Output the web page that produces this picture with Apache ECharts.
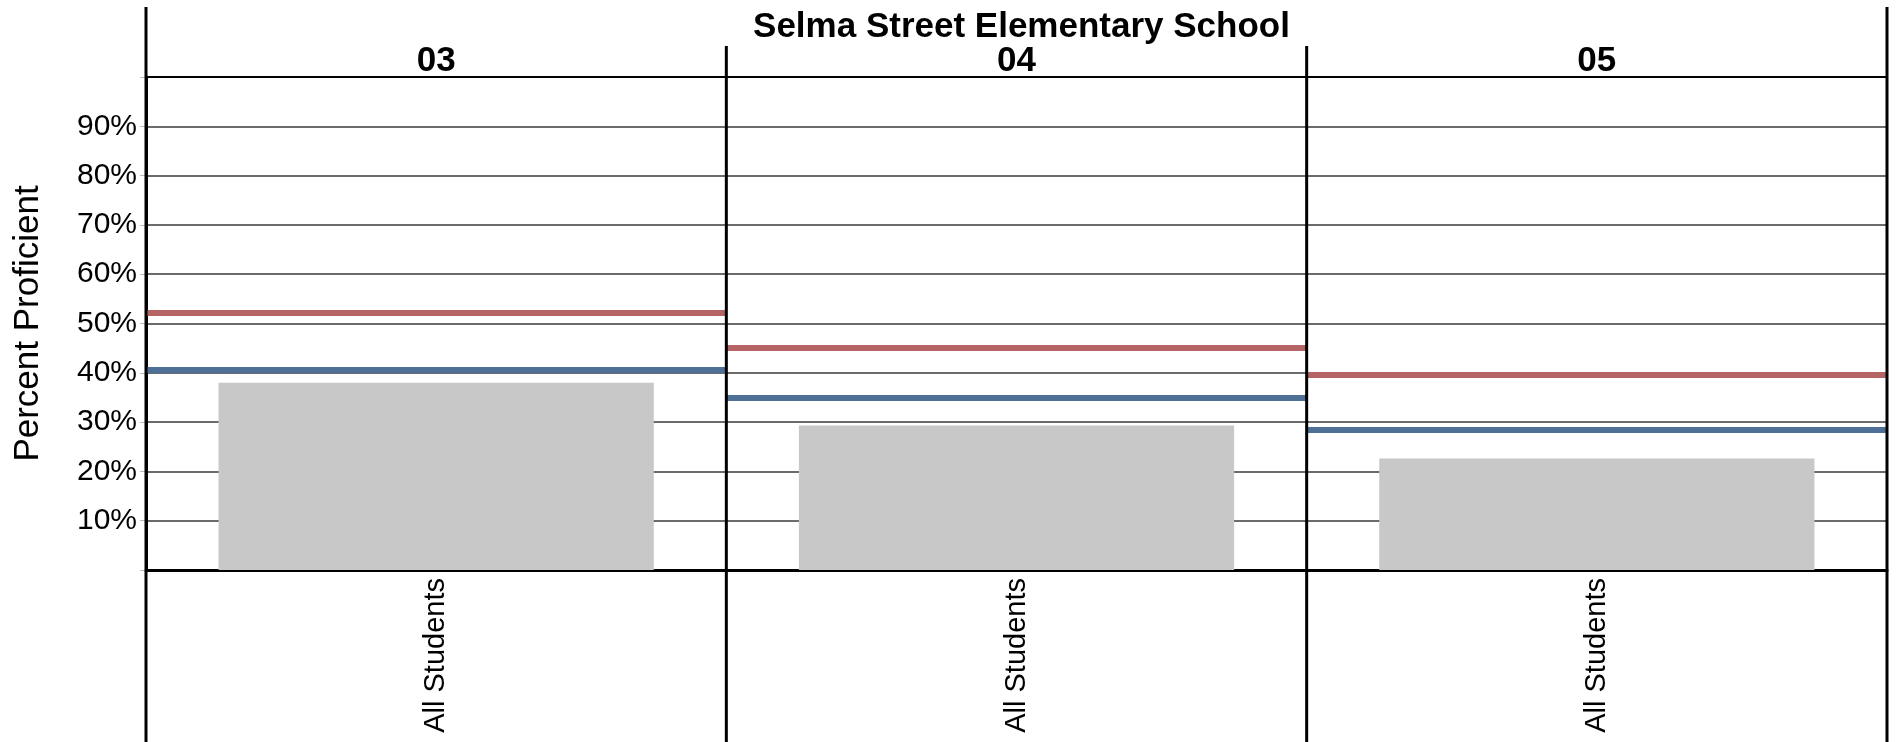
<!DOCTYPE html>
<html>
<head>
<meta charset="utf-8">
<script src="https://cdn.jsdelivr.net/npm/echarts@6/dist/echarts.min.js"></script>
<style>
  html, body { margin: 0; padding: 0; background: #fff; }
  #chart { width: 1898px; height: 742px; }
</style>
</head>
<body>
<div id="chart"></div>
<script>
// 数据
const grades = ['03', '04', '05']
const groups = ['All Students']
const schoolPct = [38.0, 29.3, 22.6]     // 灰色柱
const redTarget = [52.1, 45.0, 39.6]     // 红线
const blueTarget = [40.7, 35.0, 28.5]    // 蓝线
const yTicks = [10, 20, 30, 40, 50, 60, 70, 80, 90]

const FONT = 'Liberation Sans, Arial, sans-serif'
const RED = '#b46464'
const BLUE = '#4e7096'

// 布局
const plotLeft = 146, plotRight = 1887, plotTop = 77, plotBottom = 570
const panelW = (plotRight - plotLeft) / 3

const chart = echarts.init(document.getElementById('chart'))

const grid = [], xAxis = [], yAxis = [], series = []
grades.forEach((g, i) => {
	grid.push({
		left: plotLeft + i * panelW,
		width: panelW,
		top: plotTop,
		height: plotBottom - plotTop
	})
	// 下方类别轴
	xAxis.push({
		type: 'category',
		gridIndex: i,
		data: groups,
		axisLine: { lineStyle: { color: '#000', width: 3 } },
		axisTick: { show: false },
		axisLabel: { rotate: 90, fontSize: 29, color: '#000', fontFamily: FONT, margin: 8 }
	})
	// 上方年级标签
	xAxis.push({
		type: 'category',
		gridIndex: i,
		position: 'top',
		data: [g],
		axisLine: { lineStyle: { color: '#000', width: 2 } },
		axisTick: { show: false },
		axisLabel: { fontSize: 35, fontWeight: 'bold', color: '#000', fontFamily: FONT, margin: -2 }
	})
	yAxis.push({
		type: 'value',
		gridIndex: i,
		min: 0,
		max: 100,
		interval: 10,
		name: i === 0 ? 'Percent Proficient' : '',
		nameLocation: 'middle',
		nameRotate: 90,
		nameGap: 100,
		nameTextStyle: { fontSize: 35, color: '#000', fontFamily: FONT },
		axisLine: { show: i === 0, lineStyle: { color: '#000', width: 3 } },
		axisTick: { show: i === 0, length: 6, lineStyle: { color: '#bbb' } },
		axisLabel: {
			show: i === 0,
			fontSize: 30,
			color: '#000',
			fontFamily: FONT,
			margin: 9,
			formatter: v => yTicks.includes(v) ? v + '%' : ''
		},
		splitLine: { lineStyle: { color: '#3a3a3a', width: 1.5 } }
	})
	series.push({
		type: 'bar',
		xAxisIndex: i * 2,
		yAxisIndex: i,
		data: [schoolPct[i]],
		barWidth: '75%',
		itemStyle: { color: '#c8c8c8' },
		markLine: {
			silent: true,
			symbol: 'none',
			label: { show: false },
			data: [
				{ yAxis: redTarget[i], lineStyle: { color: RED, width: 6, type: 'solid' } },
				{ yAxis: blueTarget[i], lineStyle: { color: BLUE, width: 6, type: 'solid' } }
			]
		}
	})
})

// 面板边框竖线
const frame = [
	{ x: plotLeft, top: 7 },
	{ x: plotLeft + panelW, top: 46 },
	{ x: plotLeft + 2 * panelW, top: 46 },
	{ x: plotRight, top: 7 }
].map(f => ({
	type: 'line',
	shape: { x1: f.x, y1: f.top, x2: f.x, y2: 742 },
	style: { stroke: '#000', lineWidth: 3 },
	z: 100
}))

chart.setOption({
	animation: false,
	title: {
		text: 'Selma Street Elementary School',
		left: (plotLeft + plotRight) / 2,
		textAlign: 'center',
		top: 5,
		textStyle: { fontSize: 35, fontWeight: 'bold', color: '#000', fontFamily: FONT }
	},
	grid,
	xAxis,
	yAxis,
	series,
	graphic: frame
})
</script>
</body>
</html>
